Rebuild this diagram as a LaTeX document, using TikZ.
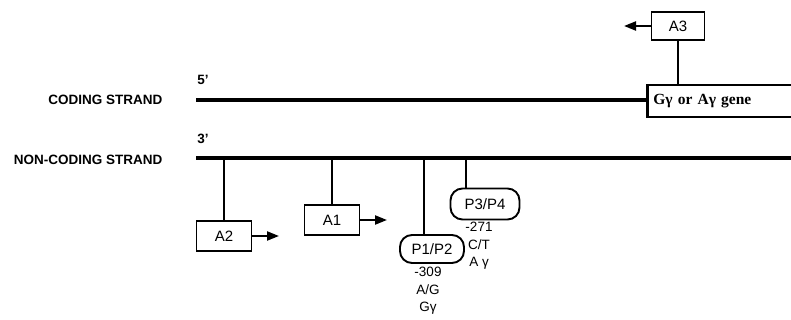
\documentclass[tikz,border=0pt]{standalone}
\usepackage{fontspec}
\setmainfont{Liberation Sans}
\newfontfamily\genefont{Liberation Serif}
\usetikzlibrary{arrows.meta}

\begin{document}
\begin{tikzpicture}[
  x=1pt, y=-1pt,
  strand/.style={draw,line width=3.6pt},
  stem/.style={draw,line width=1.8pt},
  site/.style={draw,line width=1.9pt,minimum width=55pt,minimum height=30pt,inner sep=2pt,font=\fontsize{15}{17}\selectfont},
  pbox/.style={site,rounded corners=12pt,minimum width=66pt,minimum height=29pt},
  genebox/.style={draw,line width=2.6pt,minimum height=32pt,inner xsep=6pt,text width=160pt,align=left,font=\genefont\bfseries\fontsize{15.5}{17}\selectfont},
  dir/.style={draw,line width=2.2pt,-{Triangle[length=12pt,width=9pt]}},
  note/.style={align=center,font=\fontsize{13.5}{17.5}\selectfont},
  strandlabel/.style={anchor=east,font=\bfseries\fontsize{13.5}{15}\selectfont},
  endlabel/.style={font=\bfseries\fontsize{13.5}{15}\selectfont}
]
  \useasboundingbox (0,0) rectangle (791,320);
  \clip (0,0) rectangle (791,320);

  % strand labels
  \node[strandlabel] (codlab) at (166,100) {CODING STRAND};
  \node[strandlabel] (noncodlab) at (166,160) {NON-CODING STRAND};
  \node[endlabel] (five) at (203,80) {5'};
  \node[endlabel] (three) at (203,139) {3'};

  % coding strand with gene
  \node[genebox,anchor=west] (gene) at (646,101) {Gγ or Aγ gene};
  \coordinate (cs5) at (196,100);
  \draw[strand] (cs5) -- (cs5 -| gene.west);

  % non-coding strand
  \coordinate (nc3) at (196,158);
  \coordinate (nc5) at (800,158);
  \draw[strand] (nc3) -- (nc5);

  % A3 above the gene
  \node[site,minimum width=53pt,minimum height=28pt] (a3) at (678,26) {A3};
  \coordinate (a3tip) at (624,26);
  \draw[stem] (a3.south) -- (a3.south |- gene.north);
  \draw[dir] (a3.west) -- (a3tip);

  % A2 and A1 below
  \node[site] (a2) at (224,236) {A2};
  \coordinate (a2tip) at (279,236);
  \draw[stem] (a2.north) -- (a2.north |- nc3);
  \draw[dir] (a2.east) -- (a2tip);

  \node[site] (a1) at (332,220) {A1};
  \coordinate (a1tip) at (387,220);
  \draw[stem] (a1.north) -- (a1.north |- nc3);
  \draw[dir] (a1.east) -- (a1tip);

  % promoter sites
  \node[pbox,minimum width=64pt,minimum height=28pt] (p12) at (432,249) {P1/P2};
  \draw[stem] ([xshift=-8pt]p12.north) -- ([xshift=-8pt]p12.north |- nc3);
  \node[note,anchor=north] (p12note) at (428,264) {-309\\A/G\\Gγ};

  \node[pbox,minimum width=69pt,minimum height=31pt] (p34) at (485,204) {P3/P4};
  \draw[stem] ([xshift=-19pt]p34.north) -- ([xshift=-19pt]p34.north |- nc3);
  \node[note,anchor=north] (p34note) at (479,219) {-271\\C/T\\A γ};
\end{tikzpicture}
\end{document}
